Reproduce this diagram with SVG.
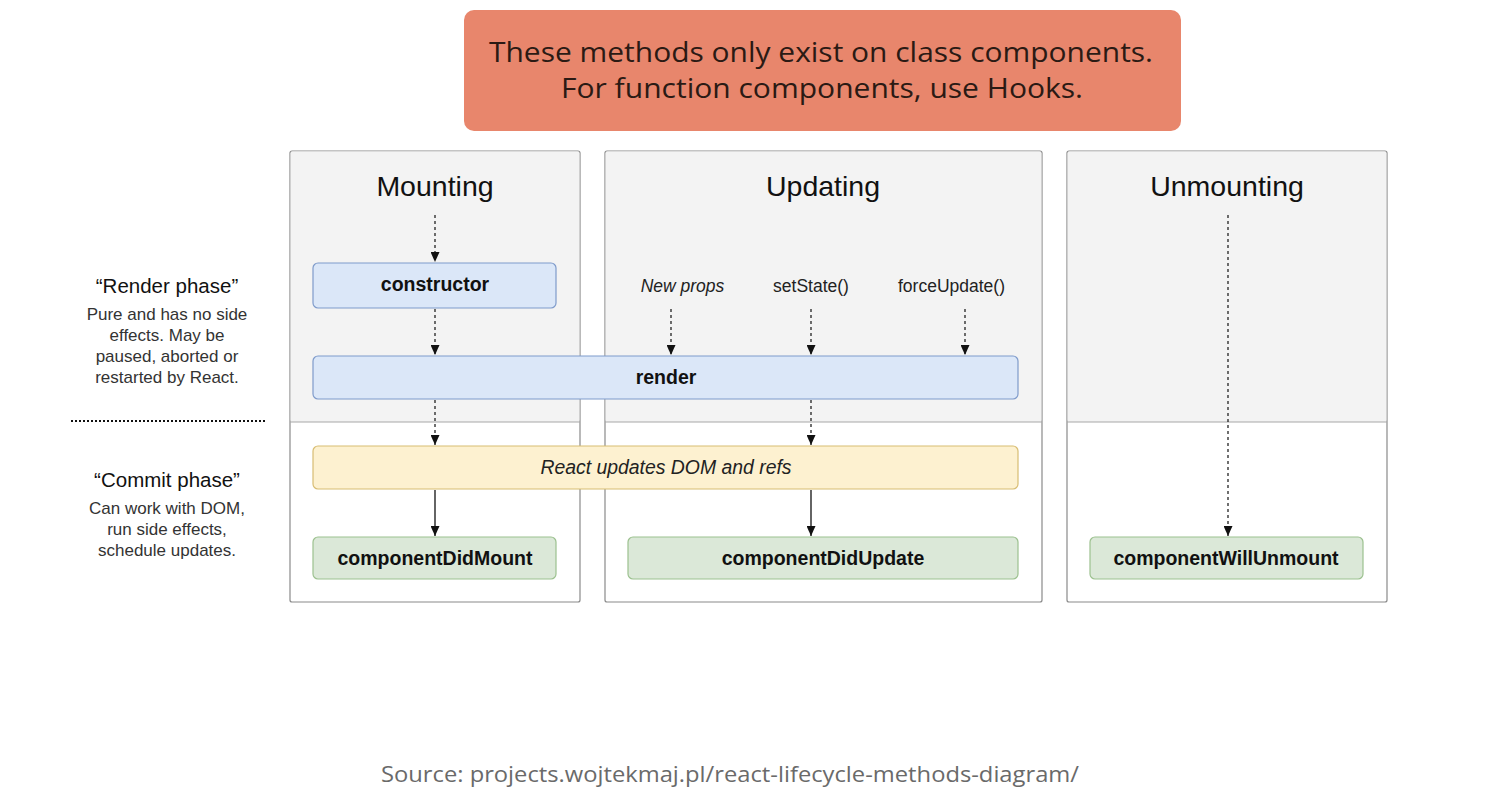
<svg xmlns="http://www.w3.org/2000/svg" width="1501" height="788" viewBox="0 0 1501 788">
<style>
.panel{fill:#ffffff;stroke:#8a8a8a;stroke-width:1.2}
.upper{fill:#f3f3f3}
.div{stroke:#a8a8a8;stroke-width:1.2}
.title{font-family:"Liberation Sans",Arial,sans-serif;font-size:28.5px;fill:#111;text-anchor:middle}
.blue{fill:#dbe7f8;stroke:#7f9bcb;stroke-width:1.2}
.yellow{fill:#fdf1d0;stroke:#d8bd73;stroke-width:1.2}
.green{fill:#dbe8d8;stroke:#9cc18f;stroke-width:1.2}
.lbl{font-family:"Liberation Sans",Arial,sans-serif;font-size:19.5px;font-weight:bold;fill:#111;text-anchor:middle}
.ital{font-family:"Liberation Sans",Arial,sans-serif;font-size:19.4px;font-style:italic;fill:#222;text-anchor:middle}
.trig{font-family:"Liberation Sans",Arial,sans-serif;font-size:17.5px;fill:#222;text-anchor:middle}
.side{font-family:"Liberation Sans",Arial,sans-serif;font-size:17px;fill:#333;text-anchor:middle}
.sideh{font-family:"Liberation Sans",Arial,sans-serif;font-size:20.5px;fill:#111;text-anchor:middle}
.dash{stroke:#111;stroke-width:1.2;stroke-dasharray:3 3;fill:none;marker-end:url(#ah)}
.solid{stroke:#111;stroke-width:1.3;fill:none;marker-end:url(#ah)}
.banner{font-family:"Open Sans",sans-serif;font-size:28px;fill:#2b1a14;text-anchor:middle}
</style>
<defs>
<marker id="ah" markerWidth="10" markerHeight="9" refX="10" refY="4.5" orient="auto" markerUnits="userSpaceOnUse" viewBox="0 0 10 9">
<path d="M0,0 L10,4.5 L0,9 Z" fill="#111"/>
</marker>
</defs>
<rect width="1501" height="788" fill="#ffffff"/>

<g id="banner">
<rect x="464" y="10" width="717" height="121" rx="10" fill="#e8866c"/>
<text class="banner" x="821" y="62" textLength="664" lengthAdjust="spacingAndGlyphs">These methods only exist on class components.</text>
<text class="banner" x="822" y="98" textLength="522" lengthAdjust="spacingAndGlyphs">For function components, use Hooks.</text>
</g>

<g id="panel-mounting">
<rect class="panel" x="290" y="151" width="290" height="451" rx="2"/>
<rect class="upper" x="290.6" y="151.6" width="288.8" height="270.4" rx="2"/>
<line class="div" x1="290" y1="422" x2="580" y2="422"/>
<text class="title" x="435" y="196">Mounting</text>
</g>
<g id="panel-updating">
<rect class="panel" x="605" y="151" width="437" height="451" rx="2"/>
<rect class="upper" x="605.6" y="151.6" width="435.8" height="270.4" rx="2"/>
<line class="div" x1="605" y1="422" x2="1042" y2="422"/>
<text class="title" x="823" y="196">Updating</text>
</g>
<g id="panel-unmounting">
<rect class="panel" x="1067" y="151" width="320" height="451" rx="2"/>
<rect class="upper" x="1067.6" y="151.6" width="318.8" height="270.4" rx="2"/>
<line class="div" x1="1067" y1="422" x2="1387" y2="422"/>
<text class="title" x="1227" y="196">Unmounting</text>
</g>

<g id="phase-labels">
<text class="sideh" x="167" y="293">“Render phase”</text>
<text class="side" x="167" y="320">Pure and has no side</text>
<text class="side" x="167" y="341">effects. May be</text>
<text class="side" x="167" y="362">paused, aborted or</text>
<text class="side" x="167" y="383">restarted by React.</text>
<line x1="71" y1="421" x2="265" y2="421" stroke="#111" stroke-width="2" stroke-dasharray="2 2"/>
<text class="sideh" x="167" y="487">“Commit phase”</text>
<text class="side" x="167" y="514">Can work with DOM,</text>
<text class="side" x="167" y="535">run side effects,</text>
<text class="side" x="167" y="556">schedule updates.</text>
</g>

<g id="triggers">
<text class="trig" x="682.5" y="292" font-style="italic">New props</text>
<text class="trig" x="811" y="292">setState()</text>
<text class="trig" x="951.5" y="292">forceUpdate()</text>
</g>

<g id="constructor">
<rect class="blue" x="313" y="263" width="243" height="45" rx="5"/>
<text class="lbl" x="435" y="291">constructor</text>
</g>
<g id="render">
<rect class="blue" x="313" y="356" width="705" height="43" rx="5"/>
<text class="lbl" x="666" y="384">render</text>
</g>
<g id="dom-update">
<rect class="yellow" x="313" y="446" width="705" height="43" rx="5"/>
<text class="ital" x="666" y="474">React updates DOM and refs</text>
</g>
<g id="componentDidMount">
<rect class="green" x="313" y="537" width="243" height="42" rx="5"/>
<text class="lbl" x="435" y="565">componentDidMount</text>
</g>
<g id="componentDidUpdate">
<rect class="green" x="628" y="537" width="390" height="42" rx="5"/>
<text class="lbl" x="823" y="565">componentDidUpdate</text>
</g>
<g id="componentWillUnmount">
<rect class="green" x="1090" y="537" width="273" height="42" rx="5"/>
<text class="lbl" x="1226" y="565">componentWillUnmount</text>
</g>

<g id="connectors">
<line class="dash" x1="435" y1="215" x2="435" y2="262"/>
<line class="dash" x1="435" y1="309" x2="435" y2="355"/>
<line class="dash" x1="435" y1="400" x2="435" y2="445"/>
<line class="solid" x1="435" y1="490" x2="435" y2="536"/>
<line class="dash" x1="671" y1="309" x2="671" y2="355"/>
<line class="dash" x1="811" y1="309" x2="811" y2="355"/>
<line class="dash" x1="965" y1="309" x2="965" y2="355"/>
<line class="dash" x1="811" y1="400" x2="811" y2="445"/>
<line class="solid" x1="811" y1="490" x2="811" y2="536"/>
<line class="dash" x1="1228" y1="215" x2="1228" y2="536"/>
</g>

<g id="source">
<text x="730" y="782" font-family="'Open Sans',sans-serif" font-size="22px" fill="#6a6a6a" text-anchor="middle" textLength="698" lengthAdjust="spacingAndGlyphs">Source: projects.wojtekmaj.pl/react-lifecycle-methods-diagram/</text>
</g>
</svg>
